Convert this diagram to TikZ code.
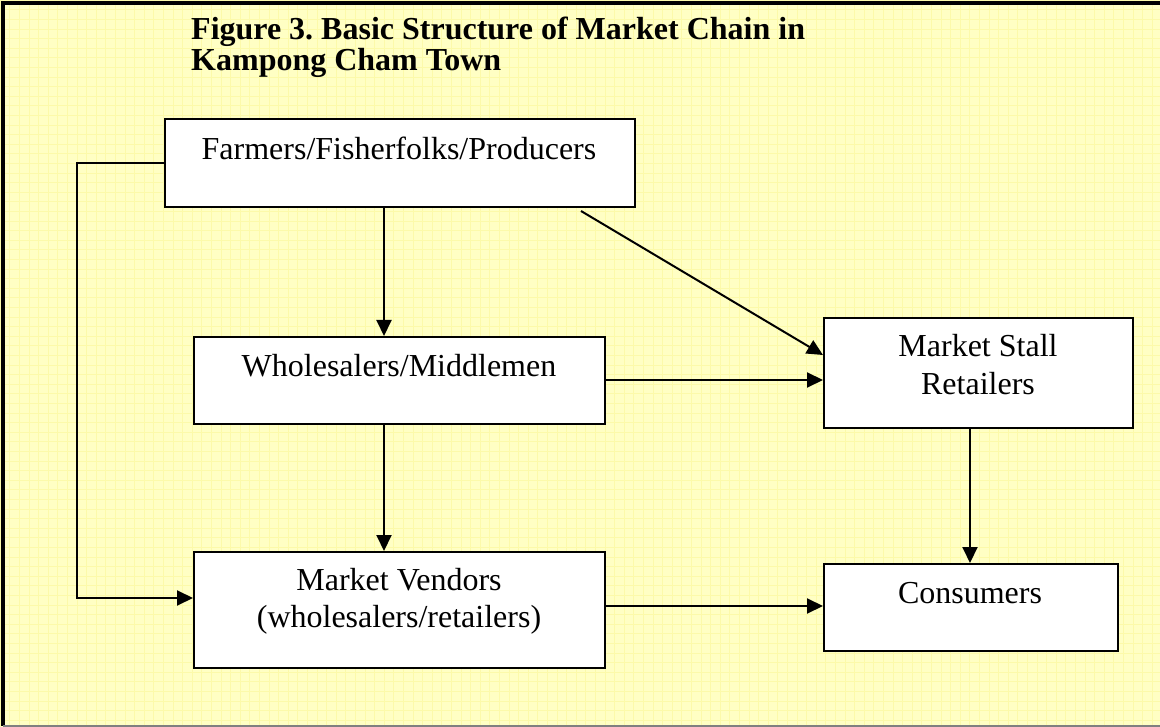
\documentclass[tikz,border=0pt]{standalone}
\usepackage{fontspec}
\setmainfont{Liberation Serif}
\usetikzlibrary{arrows.meta}
\definecolor{bgyellow}{RGB}{255,255,196}
\definecolor{gridyellow}{RGB}{252,250,170}
\tikzset{
  box/.style={draw=black, line width=2pt, fill=white, inner sep=0pt, anchor=north west},
  lbl/.style={inner sep=0pt, anchor=base, font=\fontsize{32}{37}\selectfont},
  ttl/.style={inner sep=0pt, anchor=base west, font=\fontsize{32}{32}\selectfont\bfseries},
  arr/.style={draw=black, line width=2pt, -{Triangle[length=16pt,width=15pt]}}
}
\frenchspacing
\begin{document}
\begin{tikzpicture}[x=1pt,y=-1pt]
\useasboundingbox (0,0) rectangle (1160,727);
\fill[bgyellow] (0,0) rectangle (1160,727);
\draw[gridyellow, line width=0.5pt, step=9.6pt] (0,0) grid (1160,727);
% frame
\draw[black, line width=3.5pt] (1170,3) -- (3,3) -- (3,726);
\draw[gray, line width=2pt] (3,726) -- (1170,726);
% title
\node[ttl] (title1) at (191,40) {Figure 3. Basic Structure of Market Chain in};
\node[ttl] (title2) at (191,71) {Kampong Cham Town};
% boxes
\node[box, minimum width=470pt, minimum height=88pt] (farmers) at (164,118) {};
\node[box, minimum width=411pt, minimum height=87pt] (whole) at (193,336) {};
\node[box, minimum width=309pt, minimum height=110pt] (stall) at (823,317) {};
\node[box, minimum width=411pt, minimum height=116pt] (vendors) at (193,551) {};
\node[box, minimum width=294pt, minimum height=87pt] (consumers) at (823,563) {};
% labels
\node[lbl] (tfarmers) at (399,160) {Farmers/Fisherfolks/Producers};
\node[lbl] (twhole) at (399,377) {Wholesalers/Middlemen};
\node[lbl] (tstall1) at (978,357) {Market Stall};
\node[lbl] (tstall2) at (978,395) {Retailers};
\node[lbl] (tvend1) at (399,590) {Market Vendors};
\node[lbl] (tvend2) at (399,627) {(wholesalers/retailers)};
\node[lbl] (tcons) at (970,603) {Consumers};
% helper coordinates
\coordinate (cx) at (384,0);
\coordinate (lt) at (77,163);
\coordinate (lb) at (77,598);
\coordinate (dstart) at (581,211);
\coordinate (dy) at (0,355);
\coordinate (hy) at (0,380);
\coordinate (vx) at (970,0);
\coordinate (by) at (0,606);
% connectors
\draw[arr] (farmers.south -| cx) -- (whole.north -| cx);
\draw[arr] (whole.south -| cx) -- (vendors.north -| cx);
\draw[arr] (farmers.west |- lt) -- (lt) -- (lb) -- (vendors.west |- lb);
\draw[arr] (dstart) -- (stall.west |- dy);
\draw[arr] (whole.east |- hy) -- (stall.west |- hy);
\draw[arr] (stall.south -| vx) -- (consumers.north -| vx);
\draw[arr] (vendors.east |- by) -- (consumers.west |- by);
\end{tikzpicture}
\end{document}
